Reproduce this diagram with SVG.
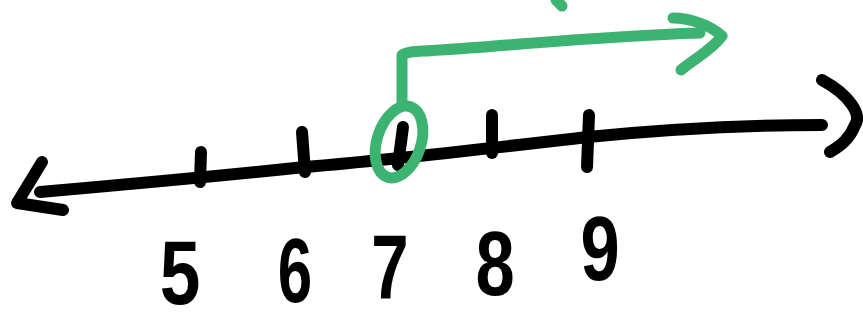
<svg xmlns="http://www.w3.org/2000/svg" width="863" height="324" viewBox="0 0 863 324">
<style>
.ink{fill:none;stroke:#000;stroke-width:12;stroke-linecap:round;stroke-linejoin:round}
.grn{fill:none;stroke:#3db371;stroke-width:11;stroke-linecap:round;stroke-linejoin:round}
.num{font-family:"Liberation Sans",Arial,sans-serif;font-weight:bold;font-size:86px;fill:#000;text-anchor:middle}
</style>
<rect width="863" height="324" fill="#fff"/>
<g id="numberline">
<path class="ink" d="M40,192 C120,185 200,178 305,167 C400,159 492,148 588,137 C680,128 760,125 822,125"/>
<path class="ink" d="M42,162 L17,203 L63,210"/>
<path class="ink" d="M822,80 C850,95 862,115 855,125 C850,138 842,145 830,152"/>
</g>
<g id="ticks">
<path class="ink" d="M201,152 L200,182"/>
<path class="ink" d="M302,132 L305,172"/>
<path class="ink" d="M403,127 L398,165"/>
<path class="ink" d="M492,115 L492,153"/>
<path class="ink" d="M589,115 L587,167"/>
</g>
<g id="labels">
<text class="num" transform="translate(180,304) scale(0.85,1.05)">5</text>
<text class="num" transform="translate(295,302) scale(0.72,1.05)">6</text>
<text class="num" transform="translate(390,298) scale(0.78,1.05)">7</text>
<text class="num" transform="translate(495,295) scale(0.82,1.05)">8</text>
<text class="num" transform="translate(600,280) scale(0.82,1.05)">9</text>
</g>
<g id="highlight">
<ellipse class="grn" cx="399" cy="142" rx="22" ry="37" transform="rotate(18 399 142)"/>
<path class="grn" d="M402,103 L402,55 C410,50 420,52 440,50 C520,45 600,36 700,33"/>
<path class="grn" d="M673,18 C690,18 710,25 722,36 C712,50 695,58 681,70"/>
<path class="grn" d="M556,0 L562,6"/>
</g>
</svg>
